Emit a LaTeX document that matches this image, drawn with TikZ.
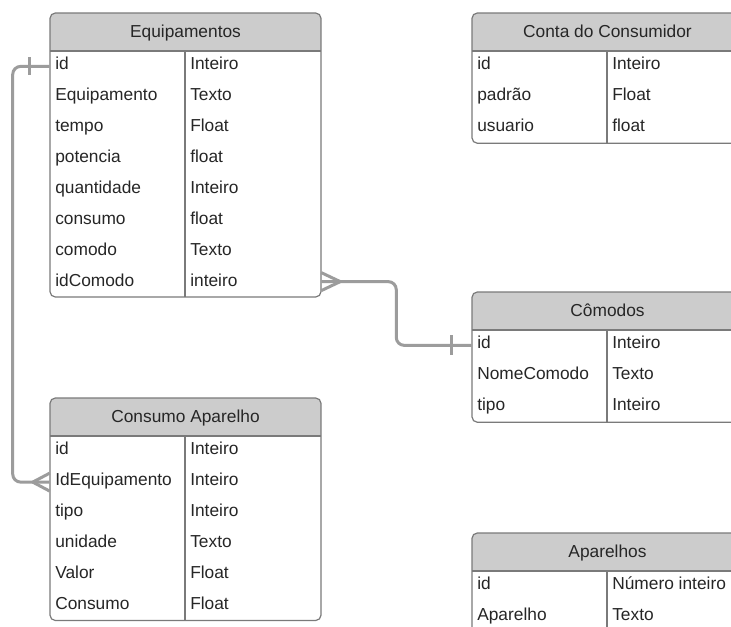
\documentclass[tikz,border=0pt]{standalone}
\usepackage{fontspec}
\setmainfont{Liberation Sans}
\usetikzlibrary{calc}
\definecolor{hdrgray}{HTML}{CCCCCC}
\definecolor{framegray}{HTML}{7A7A7A}
\definecolor{txt}{HTML}{262626}
\definecolor{linkgray}{HTML}{9C9C9C}

\tikzset{
  x=0.75pt, y=-0.75pt,
  frame/.style={draw=framegray, line width=0.9pt},
  hdrtext/.style={text=txt, font=\fontsize{13}{15}\selectfont, inner sep=0, anchor=base},
  celltext/.style={text=txt, font=\fontsize{13}{15}\selectfont, inner sep=0, anchor=base west},
  rowbox/.style={inner sep=0, minimum width=203.25pt, minimum height=23.06pt},
  link/.style={draw=linkgray, line width=2.25pt, rounded corners=6pt},
  linkend/.style={draw=linkgray, line width=2.25pt},
}

% #1 name, #2 left x, #3 top y, #4 title, #5 rows as field/type
\newcommand{\erdtable}[5]{%
  \pgfmathsetmacro{\tbR}{#2+271}
  \pgfmathsetmacro{\tbD}{#2+135}
  \pgfmathsetmacro{\tbH}{#3+38}
  \pgfmathsetmacro{\tbC}{#2+135.5}
  \gdef\tbN{0}
  \foreach \f/\t [count=\i] in {#5} {\xdef\tbN{\i}}
  \pgfmathsetmacro{\tbB}{\tbH+\tbN*30.75}
  \fill[white, rounded corners=4pt] (#2,#3) rectangle (\tbR,\tbB);
  \begin{scope}
    \clip[rounded corners=4pt] (#2,#3) rectangle (\tbR,\tbB);
    \fill[hdrgray] (#2,#3) rectangle (\tbR,\tbH);
  \end{scope}
  \draw[frame] (#2,\tbH) -- (\tbR,\tbH) (\tbD,\tbH) -- (\tbD,\tbB);
  \draw[frame, rounded corners=4pt] (#2,#3) rectangle (\tbR,\tbB);
  \node[hdrtext] (#1) at (\tbC, #3+24.5) {#4};
  \foreach \f/\t [count=\i] in {#5} {
    \pgfmathsetmacro{\ry}{\tbH+(\i-0.5)*30.75}
    \pgfmathsetmacro{\by}{\tbH+18.5+(\i-1)*31}
    \node[rowbox] (#1-r\i) at (\tbC,\ry) {};
    \node[celltext] (#1-f\i) at (#2+5, \by) {\f};
    \node[celltext] (#1-t\i) at (\tbD+5, \by) {\t};
  }
}

\begin{document}
\begin{tikzpicture}
\useasboundingbox (0,0) rectangle (731,627);
\clip (0,0) rectangle (731,627);
\fill[white] (0,0) rectangle (731,627);

\erdtable{eq}{50}{13}{Equipamentos}{id/Inteiro, Equipamento/Texto, tempo/Float, potencia/float, quantidade/Inteiro, consumo/float, comodo/Texto, idComodo/inteiro}
\erdtable{cc}{472}{13}{Conta do Consumidor}{id/Inteiro, padrão/Float, usuario/float}
\erdtable{co}{472}{292}{Cômodos}{id/Inteiro, NomeComodo/Texto, tipo/Inteiro}
\erdtable{ca}{50}{398}{Consumo Aparelho}{id/Inteiro, IdEquipamento/Inteiro, tipo/Inteiro, unidade/Texto, Valor/Float, Consumo/Float}
\erdtable{ap}{472}{533}{Aparelhos}{id/Número inteiro, Aparelho/Texto}

% Equipamentos (one) -- Consumo Aparelho (many)
\draw[link] (eq-r1.west) -- ++(-37,0) |- (ca-r2.west);
\draw[linkend] ($(eq-r1.west)+(-20,-9)$) -- ++(0,18);
\draw[linkend] ($(ca-r2.west)+(-17,0)$) -- ($(ca-r2.west)+(0,-9)$)
               ($(ca-r2.west)+(-17,0)$) -- ($(ca-r2.west)+(0,9)$);

% Equipamentos (many) -- Cômodos (one)
\draw[link] (eq-r8.east) -- ++(75,0) |- (co-r1.west);
\draw[linkend] ($(co-r1.west)+(-20,-10)$) -- ++(0,20);
\draw[linkend] ($(eq-r8.east)+(19,0)$) -- ($(eq-r8.east)+(0,-9)$)
               ($(eq-r8.east)+(19,0)$) -- ($(eq-r8.east)+(0,9)$);
\end{tikzpicture}
\end{document}
